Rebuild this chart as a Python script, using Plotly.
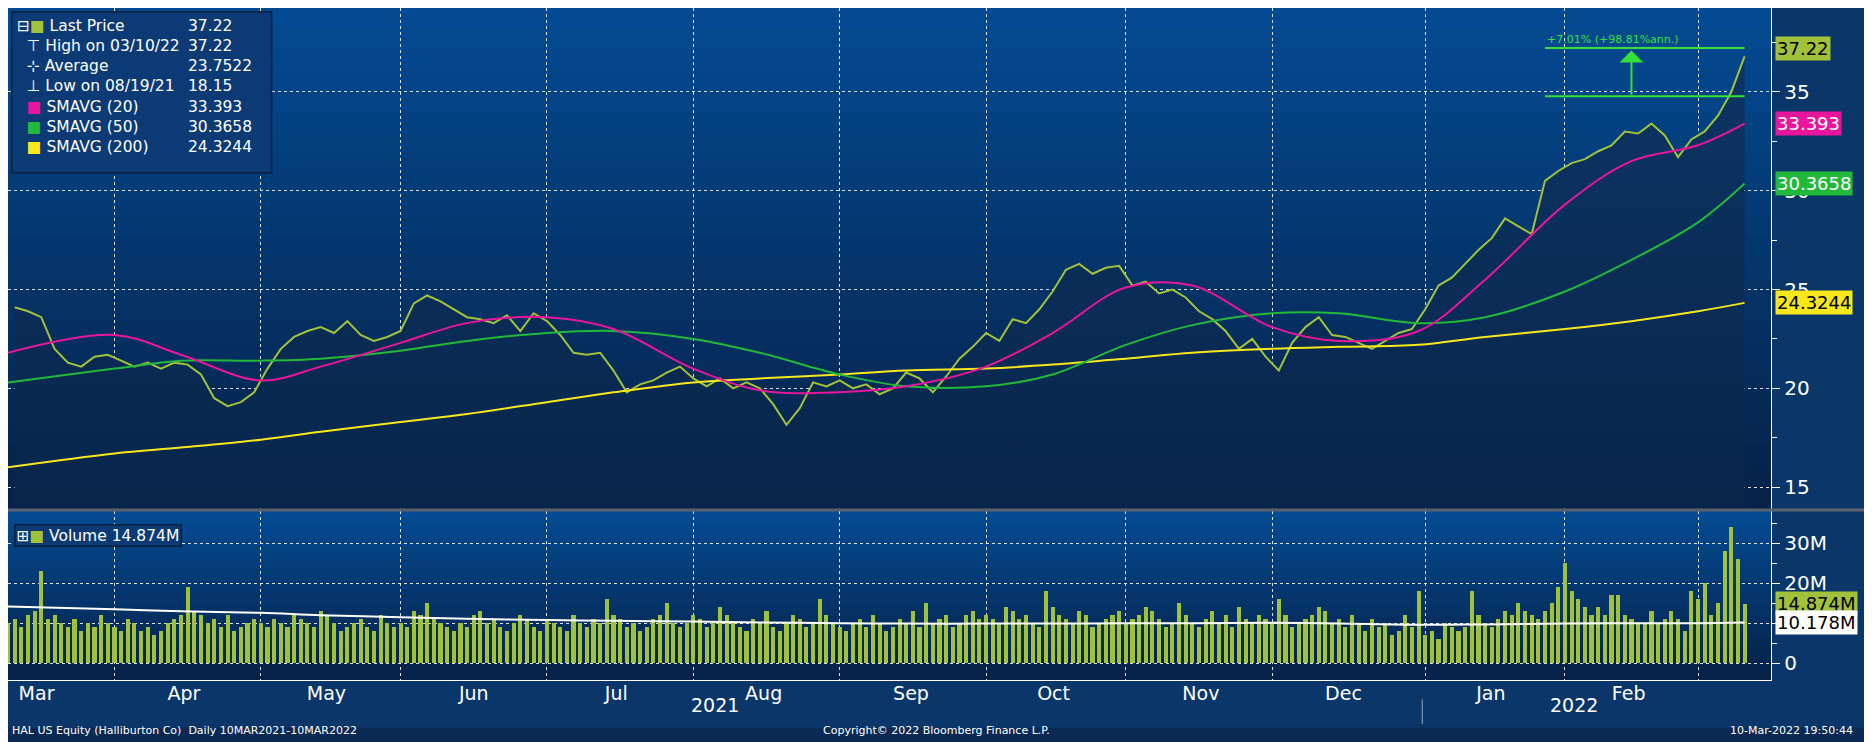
import plotly.graph_objects as go
import pandas as pd

# daily volume (millions), 10 Mar 2021 .. 10 Mar 2022, weekdays
volume = [
    10, 11, 9, 12, 13, 23, 11, 12, 10, 9, 11, 8, 10, 9, 12, 10,
    9, 8, 11, 10, 8, 9, 7, 8, 10, 11, 12, 19, 13, 12, 10, 11, 9, 12, 8, 9, 10, 11,
    10, 9, 11, 10, 9, 12, 11, 10, 9, 13, 12, 10, 8, 9, 10, 11, 9, 8, 12, 10, 9,
    10, 9, 13, 12, 15, 11, 10, 9, 8, 10, 9, 12, 13, 10, 11, 9, 8, 10, 12, 11, 9, 8,
    11, 10, 9, 8, 12, 10, 9, 11, 10, 16, 12, 11, 9, 10, 8, 9, 11, 12, 15, 10, 9, 10,
    12, 11, 9, 10, 14, 12, 10, 9, 8, 11, 10, 13, 9, 8, 10, 12, 11, 9, 10, 16, 12, 10,
    9, 8, 10, 11, 9, 12, 10, 8, 9, 11, 10, 13, 9, 15, 10, 11, 12, 9, 10, 12, 13, 11,
    12, 11, 10, 14, 13, 11, 12, 10, 9, 18, 14, 12, 11, 10, 13, 12, 9, 10, 11, 12, 13,
    10, 11, 12, 14, 13, 11, 9, 10, 15, 12, 10, 9, 11, 13, 10, 12, 9, 14, 11, 10, 12, 11,
    10, 16, 12, 9, 10, 11, 12, 14, 13, 10, 11, 9, 12, 10, 8, 11, 9, 10, 7, 8, 12, 9, 18,
    7, 8, 6, 10, 9, 8, 9, 18, 12, 10, 9, 11, 13, 12, 15, 13, 12, 11, 13, 15, 19,
    25, 18, 16, 14, 12, 14, 12, 17, 17, 12, 11, 10, 10, 13, 10, 11, 13, 11, 8, 18,
    16, 20, 12, 15, 28, 34, 26, 14.874,
]

# last price, every other trading day
price = [
    24.1, 23.9, 23.6, 22.0, 21.3, 21.1, 21.6, 21.7, 21.4, 21.1, 21.3, 21.0, 21.3, 21.2, 20.7, 19.5,
    19.1, 19.3, 19.8, 21.0, 22.0, 22.6, 22.9, 23.1, 22.8, 23.4, 22.7, 22.4, 22.6, 22.9, 24.3, 24.7,
    24.4, 24.0, 23.6, 23.5, 23.3, 23.7, 22.9, 23.8, 23.4, 22.7, 21.8, 21.7, 21.8, 20.9, 19.8, 20.2,
    20.4, 20.8, 21.1, 20.5, 20.1, 20.5, 20.0, 20.3, 20.0, 19.2, 18.15, 19.0, 20.3, 20.1, 20.4, 20.0,
    20.2, 19.7, 20.0, 20.8, 20.5, 19.8, 20.6, 21.5, 22.1, 22.8, 22.4, 23.5, 23.3, 24.0, 24.9, 26.0,
    26.3, 25.8, 26.1, 26.2, 25.2, 25.4, 24.8, 25.0, 24.6, 23.9, 23.5, 22.9, 22.0, 22.5, 21.6, 20.9,
    22.3, 23.1, 23.6, 22.7, 22.6, 22.3, 22.0, 22.4, 22.8, 23.0, 24.0, 25.2, 25.6, 26.3, 27.0, 27.6,
    28.6, 28.2, 27.8, 30.5, 31.0, 31.4, 31.6, 32.0, 32.3, 33.0, 32.9, 33.4, 32.8, 31.7, 32.6, 33.0,
    33.8, 35.0, 36.8, 34.9, 37.22,
]

sma_dates = ["2021-03-10", "2021-04-01", "2021-04-15", "2021-05-03", "2021-05-14", "2021-06-01",
             "2021-06-15", "2021-07-01", "2021-07-15", "2021-08-02", "2021-08-16", "2021-09-01",
             "2021-09-15", "2021-10-01", "2021-10-15", "2021-11-01", "2021-11-15", "2021-12-01",
             "2021-12-15", "2021-12-31", "2022-01-14", "2022-02-01", "2022-02-15", "2022-03-01",
             "2022-03-10"]
sma20 = [21.8, 22.7, 21.7, 20.4, 21.1, 22.3, 23.3, 23.6, 23.0, 21.0, 19.9, 19.8, 20.1, 21.1, 22.8,
         25.1, 25.2, 23.1, 22.4, 22.9, 25.5, 29.3, 31.5, 32.3, 33.393]
sma50 = [20.3, 21.0, 21.4, 21.4, 21.5, 21.9, 22.4, 22.8, 22.9, 22.5, 21.8, 20.7, 20.1, 20.1, 20.7,
         22.2, 23.2, 23.8, 23.8, 23.3, 23.6, 24.9, 26.5, 28.4, 30.3658]
sma200 = [16.0, 16.7, 17.0, 17.4, 17.8, 18.3, 18.7, 19.3, 19.8, 20.3, 20.5, 20.7, 20.9, 21.0, 21.2,
          21.5, 21.8, 22.0, 22.1, 22.2, 22.6, 23.0, 23.4, 23.9, 24.3244]
vol_avg = [14.2, 13.5, 13.0, 12.6, 12.0, 11.5, 11.1, 10.8, 10.6, 10.4, 10.2, 10.0, 9.9, 9.9, 9.9,
           10.0, 10.0, 10.1, 9.9, 9.6, 9.7, 9.9, 10.0, 10.0, 10.178]

month_labels = ["Mar", "Apr", "May", "Jun", "Jul", "Aug", "Sep", "Oct", "Nov", "Dec", "Jan", "Feb"]
month_mids = ["2021-03-16", "2021-04-16", "2021-05-16", "2021-06-16", "2021-07-16", "2021-08-16",
              "2021-09-16", "2021-10-16", "2021-11-16", "2021-12-16", "2022-01-16", "2022-02-14"]

dates = pd.bdate_range("2021-03-10", periods=len(volume))
price_dates = dates[::-2][::-1]

OLIVE = "#a2c13b"
PINK = "#e8169c"
GREEN = "#22b83a"
YELLOW = "#f7e81e"
FONT = "DejaVu Sans"

fig = go.Figure()

# background gradient bands (decoration)
top = (4, 74, 146)
bot = (6, 34, 72)
n = 24
for k in range(n):
    t = k / (n - 1)
    c = tuple(int(top[j] + (bot[j] - top[j]) * t) for j in range(3))
    for y0, y1 in [(0.325, 1.0), (0.094, 0.322)]:
        h = (y1 - y0) / n
        fig.add_shape(type="rect", xref="paper", yref="paper", x0=0, x1=0.95,
                      y0=y1 - (k + 1) * h, y1=y1 - k * h + 0.0005,
                      fillcolor="rgb(%d,%d,%d)" % c, line_width=0, layer="below")

fig.add_trace(go.Scatter(x=price_dates, y=price, mode="lines", line=dict(color=OLIVE, width=2),
                         fill="tozeroy",
                         fillgradient=dict(type="vertical",
                                           colorscale=[[0, "#061c3a"], [1, "#0c3464"]]),
                         name="Last Price", xaxis="x", yaxis="y"))
fig.add_trace(go.Scatter(x=sma_dates, y=sma200, mode="lines", line=dict(color=YELLOW, width=2, shape="spline"),
                         xaxis="x", yaxis="y"))
fig.add_trace(go.Scatter(x=sma_dates, y=sma50, mode="lines", line=dict(color=GREEN, width=2, shape="spline"),
                         xaxis="x", yaxis="y"))
fig.add_trace(go.Scatter(x=sma_dates, y=sma20, mode="lines", line=dict(color=PINK, width=2, shape="spline"),
                         xaxis="x", yaxis="y"))

fig.add_trace(go.Bar(x=dates, y=volume, marker=dict(color=OLIVE, line_width=0),
                     width=0.62 * 86400000, xaxis="x2", yaxis="y2"))
fig.add_trace(go.Scatter(x=sma_dates, y=vol_avg, mode="lines", line=dict(color="white", width=2, shape="spline"),
                         xaxis="x2", yaxis="y2"))
# invisible trace carrying the month label axis
fig.add_trace(go.Scatter(x=month_mids, y=[0] * len(month_mids), mode="markers",
                         marker=dict(opacity=0), xaxis="x3", yaxis="y2", hoverinfo="skip"))

xr = ["2021-03-10", "2022-03-16"]
breaks = [dict(bounds=["sat", "mon"])]
grid = dict(showgrid=True, gridcolor="rgba(255,255,255,0.85)", griddash="dot", gridwidth=1)

fig.update_layout(
    autosize=True, showlegend=False,
    paper_bgcolor="#0a3669", plot_bgcolor="rgba(0,0,0,0)",
    margin=dict(l=0, r=0, t=0, b=0),
    font=dict(family=FONT, color="white"),
    bargap=0,
    xaxis=dict(domain=[0, 0.95], range=xr, rangebreaks=breaks, anchor="y", dtick="M1",
               tick0="2021-03-01", showticklabels=False, zeroline=False, **grid),
    xaxis2=dict(domain=[0, 0.95], range=xr, rangebreaks=breaks, anchor="y2", matches="x",
                dtick="M1", tick0="2021-03-01", showticklabels=False,
                ticks="", showline=True, linecolor="white", **grid),
    xaxis3=dict(domain=[0, 0.95], range=["2021-03-10", "2022-03-16"], anchor="y2", overlaying="x2",
                tickvals=month_mids, ticktext=month_labels, tickfont=dict(size=19), ticks="",
                showgrid=False, zeroline=False, side="bottom"),
    yaxis=dict(domain=[0.325, 1.0], range=[13.9, 39.25], side="right", anchor="x",
               tickvals=[15, 20, 25, 30, 35], tickfont=dict(size=20), ticks="outside",
               ticklen=8, tickcolor="white", showline=True, linecolor="white", zeroline=False,
               minor=dict(dtick=2.5, ticks="outside", ticklen=5, tickcolor="white"), **grid),
    yaxis2=dict(domain=[0.094, 0.322], range=[-4.3, 38.1], side="right", anchor="x2",
                tickvals=[0, 10, 20, 30], ticktext=["0", "10M", "20M", "30M"],
                tickfont=dict(size=20), ticks="outside", ticklen=8, tickcolor="white",
                showline=True, linecolor="white", zeroline=False,
                minor=dict(dtick=5, ticks="outside", ticklen=5, tickcolor="white"), **grid),
)

# panel separator and footer band
fig.add_shape(type="line", xref="paper", yref="paper", x0=0, x1=1, y0=0.3235, y1=0.3235,
              line=dict(color="#5a6270", width=3))
fig.add_shape(type="rect", xref="paper", yref="paper", x0=0, x1=1, y0=0, y1=0.03,
              fillcolor="#0a2a55", line_width=0, layer="below")
fig.add_shape(type="line", xref="paper", yref="paper", x0=0.762, x1=0.762,
              y0=0.035, y1=0.068, line=dict(color="#8fa6c4", width=1))

# price change annotation
fig.add_shape(type="line", xref="x", yref="y", x0="2022-01-27", x1="2022-03-10", y0=37.22, y1=37.22,
              line=dict(color="#34e03a", width=2))
fig.add_shape(type="line", xref="x", yref="y", x0="2022-01-27", x1="2022-03-10", y0=34.78, y1=34.78,
              line=dict(color="#34e03a", width=2))
fig.add_annotation(x="2022-02-15", y=37.1, ax="2022-02-15", ay=34.78, xref="x", yref="y",
                   axref="x", ayref="y", showarrow=True, arrowhead=1, arrowsize=2,
                   arrowwidth=2, arrowcolor="#34e03a", text="")
fig.add_annotation(x="2022-01-27", y=37.25, xref="x", yref="y", xanchor="left", yanchor="bottom",
                   text="+7.01% (+98.81%ann.)", showarrow=False, font=dict(size=11, color="#34e03a"))

# right-hand value tags
tags = [(37.22, "37.22", OLIVE, "black", "y"), (33.393, "33.393", PINK, "white", "y"),
        (30.3658, "30.3658", GREEN, "white", "y"), (24.3244, "24.3244", YELLOW, "black", "y"),
        (14.874, "14.874M", OLIVE, "black", "y2"), (10.178, "10.178M", "white", "black", "y2")]
for v, t, bg, fg, ya in tags:
    fig.add_annotation(x=0.952, xref="paper", y=v, yref=ya, xanchor="left", text=t, showarrow=False,
                       bgcolor=bg, font=dict(size=18, color=fg), borderpad=1)

# legend box
sq = "<span style='color:%s'>■</span> "
names = ("⊟" + sq % OLIVE + "Last Price<br>  ⊤ High on 03/10/22<br>  ⊹ Average<br>  ⊥ Low on 08/19/21<br>"
         + "  " + sq % PINK + "SMAVG (20)<br>  " + sq % GREEN + "SMAVG (50)<br>  "
         + sq % YELLOW + "SMAVG (200)")
vals = "37.22<br>37.22<br>23.7522<br>18.15<br>33.393<br>30.3658<br>24.3244"
fig.add_shape(type="rect", xref="paper", yref="paper", x0=0.002, x1=0.142, y0=0.778, y1=0.995,
              fillcolor="#0b3a74", line=dict(color="#0a1f3c", width=1.5), layer="above", opacity=1)
fig.add_annotation(x=0.004, y=0.99, xref="paper", yref="paper", xanchor="left", yanchor="top",
                   text=names, align="left", showarrow=False, font=dict(size=15.5, color="white"))
fig.add_annotation(x=0.096, y=0.99, xref="paper", yref="paper", xanchor="left", yanchor="top",
                   text=vals, align="left", showarrow=False, font=dict(size=15.5, color="white"))

# volume label box
fig.add_annotation(x=0.003, y=0.305, xref="paper", yref="paper", xanchor="left", yanchor="top",
                   text="⊞" + sq % OLIVE + "Volume 14.874M", showarrow=False, bgcolor="#0b3a74",
                   bordercolor="#0a1f3c", borderwidth=1.5, font=dict(size=15.5, color="white"))

# year labels and footer
fig.add_annotation(x=0.381, y=0.043, xref="paper", yref="paper", text="2021", showarrow=False,
                   font=dict(size=19, color="white"))
fig.add_annotation(x=0.858, y=0.043, xref="paper", yref="paper", text="2022", showarrow=False,
                   font=dict(size=19, color="white"))
fig.add_annotation(x=0.001, y=0.015, xref="paper", yref="paper", xanchor="left",
                   text="HAL US Equity (Halliburton Co)  Daily 10MAR2021-10MAR2022", showarrow=False,
                   font=dict(size=11, color="white"))
fig.add_annotation(x=0.5, y=0.015, xref="paper", yref="paper",
                   text="Copyright© 2022 Bloomberg Finance L.P.", showarrow=False,
                   font=dict(size=11, color="white"))
fig.add_annotation(x=0.995, y=0.015, xref="paper", yref="paper", xanchor="right",
                   text="10-Mar-2022 19:50:44", showarrow=False, font=dict(size=11, color="white"))

fig.write_html("out.html", default_width="100%", default_height="100vh")
